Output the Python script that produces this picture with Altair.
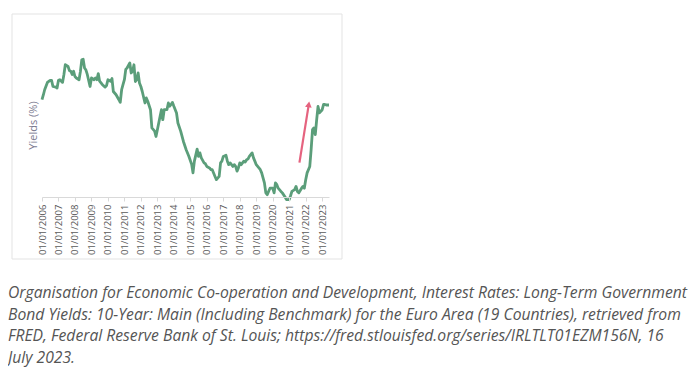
import altair as alt
import pandas as pd

# Euro area 10-year government bond yield (%)
dates = [
    "2006-01", "2006-02", "2006-03", "2006-05", "2006-07", "2006-08", "2006-09", "2006-11", "2006-12",
    "2007-01", "2007-02", "2007-04", "2007-05", "2007-06", "2007-08", "2007-09", "2007-10", "2007-11", "2007-12",
    "2008-01", "2008-02", "2008-04", "2008-05", "2008-06", "2008-07", "2008-08", "2008-09", "2008-10", "2008-12",
    "2009-01", "2009-03", "2009-04", "2009-05", "2009-06", "2009-07", "2009-09", "2009-11", "2009-12",
    "2010-01", "2010-03", "2010-04", "2010-05", "2010-07", "2010-09", "2010-10", "2010-11", "2010-12",
    "2011-01", "2011-02", "2011-03", "2011-05", "2011-06", "2011-07", "2011-08", "2011-09", "2011-10", "2011-11", "2011-12",
    "2012-01", "2012-02", "2012-04", "2012-05", "2012-06", "2012-08", "2012-09", "2012-11", "2012-12",
    "2013-01", "2013-03", "2013-04", "2013-05", "2013-06", "2013-08", "2013-09", "2013-10", "2013-11", "2013-12",
    "2014-01", "2014-03", "2014-04", "2014-06", "2014-08", "2014-10", "2014-12",
    "2015-02", "2015-03", "2015-04", "2015-06", "2015-07", "2015-08", "2015-09", "2015-11", "2015-12",
    "2016-01", "2016-03", "2016-04", "2016-05", "2016-07", "2016-08", "2016-10", "2016-11", "2016-12",
    "2017-01", "2017-03", "2017-04", "2017-05", "2017-06", "2017-08", "2017-09", "2017-10", "2017-11", "2017-12",
    "2018-01", "2018-02", "2018-04", "2018-05", "2018-06", "2018-07", "2018-08", "2018-10", "2018-11", "2018-12",
    "2019-01", "2019-03", "2019-04", "2019-05", "2019-07", "2019-08", "2019-09", "2019-10", "2019-11",
    "2020-01", "2020-02", "2020-03", "2020-04", "2020-05", "2020-07", "2020-08", "2020-10", "2020-11",
    "2021-01", "2021-02", "2021-03", "2021-05", "2021-06", "2021-07", "2021-08", "2021-10", "2021-11", "2021-12",
    "2022-01", "2022-02", "2022-04", "2022-05", "2022-06", "2022-07", "2022-08", "2022-09", "2022-10", "2022-11",
    "2023-01", "2023-02", "2023-03", "2023-04", "2023-05", "2023-06",
]
yields = [
    3.31, 3.48, 3.65, 3.90, 3.97, 3.97, 3.76, 3.74, 3.71,
    3.97, 3.99, 3.90, 4.16, 4.50, 4.44, 4.30, 4.28, 4.17, 4.28,
    4.10, 4.05, 3.99, 4.27, 4.67, 4.69, 4.39, 4.32, 4.17, 3.76,
    4.05, 3.99, 4.05, 3.99, 4.20, 3.94, 3.82, 3.74, 3.79,
    3.99, 3.94, 4.03, 3.59, 3.48, 3.31, 3.22, 3.65, 3.82,
    3.99, 4.35, 4.39, 4.56, 4.22, 4.28, 4.50, 3.93, 3.99, 4.22, 3.88,
    3.76, 3.59, 3.20, 3.37, 3.26, 2.97, 2.35, 2.24, 2.06,
    2.29, 2.74, 2.97, 2.63, 2.97, 2.97, 3.20, 3.09, 3.15, 3.22,
    3.09, 2.86, 2.52, 2.24, 1.89, 1.61, 1.38,
    1.10, 0.82, 1.22, 1.63, 1.38, 1.50, 1.33, 1.16, 1.13,
    1.04, 0.99, 0.93, 0.93, 0.70, 0.59, 0.70, 1.16, 1.22,
    1.38, 1.42, 1.22, 1.10, 1.16, 1.04, 1.10, 1.04, 0.88, 0.99,
    1.16, 1.10, 1.22, 1.19, 1.27, 1.29, 1.38, 1.50, 1.33, 1.22,
    1.10, 0.99, 0.93, 0.82, 0.48, 0.14, 0.08, 0.19, 0.30,
    0.30, 0.14, 0.48, 0.42, 0.30, 0.19, 0.14, 0.00, -0.09,
    -0.09, 0.05, 0.19, 0.25, 0.36, 0.19, 0.14, 0.30, 0.36, 0.30,
    0.59, 0.82, 1.04, 1.61, 2.29, 2.35, 2.12, 2.63, 3.08, 2.86,
    2.97, 3.15, 3.15, 3.13, 3.13, 3.13,
]

# annotation arrow (start -> head)
arrow_dates = ["2021-08-15", "2022-03-10"]
arrow_values = [1.17, 3.15]
arrow_angle = [9]

caption_lines = [
    "Organisation for Economic Co-operation and Development, Interest Rates: Long-Term Government",
    "Bond Yields: 10-Year: Main (Including Benchmark) for the Euro Area (19 Countries), retrieved from",
    "FRED, Federal Reserve Bank of St. Louis; https://fred.stlouisfed.org/series/IRLTLT01EZM156N, 16",
    "July 2023.",
]
year_ticks = [f"{y}-01-01" for y in range(2006, 2024)]

df = pd.DataFrame({"date": [d + "-01" for d in dates], "value": yields})
arrow_df = pd.DataFrame({
    "date": [arrow_dates[0]], "value": [arrow_values[0]],
    "date2": [arrow_dates[1]], "value2": [arrow_values[1]],
})
head_df = pd.DataFrame({"date": [arrow_dates[1]], "value": [arrow_values[1]], "angle": arrow_angle})

x_scale = alt.Scale(domain=["2006-01-01", "2023-06-01"], nice=False)
y_scale = alt.Scale(domain=[0, 4.9], nice=False, zero=False)

x_axis = alt.Axis(
    values=year_ticks, format="01/01/%Y", labelAngle=270, labelFontSize=9.5,
    labelFont="Open Sans", labelColor="#595959", labelPadding=3,
    domainColor="#d9d9d9", tickColor="#d9d9d9", tickSize=4, grid=False, title=None,
    labelOverlap=False, labelBound=False, labelFlush=False, zindex=1,
)
y_axis = alt.Axis(
    labels=False, ticks=False, domain=False, grid=False, title="Yields (%)",
    titleFont="Open Sans", titleFontSize=11, titleFontWeight="normal",
    titleColor="#7a7a90", titlePadding=4, zindex=1,
)

X = alt.X("date:T", scale=x_scale, axis=x_axis)
Y = alt.Y("value:Q", scale=y_scale, axis=y_axis)

border = alt.Chart(pd.DataFrame({"k": [0]})).mark_rect(
    fillOpacity=0, stroke="#e3e3e3", strokeWidth=1
).encode(x=alt.value(-30), x2=alt.value(300), y=alt.value(-39), y2=alt.value(206))

line = alt.Chart(df).mark_line(color="#5b9e7a", strokeWidth=2.8, strokeJoin="round").encode(x=X, y=Y)

arrow = alt.Chart(arrow_df).mark_rule(color="#e5637f", strokeWidth=2.2).encode(
    x=X, y=Y, x2="date2:T", y2="value2:Q"
)
head = alt.Chart(head_df).mark_point(
    shape="triangle-up", filled=True, color="#e5637f", size=45, opacity=1
).encode(x=X, y=Y, angle=alt.Angle("angle:Q", scale=None))

caption = alt.Chart(pd.DataFrame({"k": [0]})).mark_text(
    text=caption_lines, align="left", baseline="alphabetic", font="Open Sans",
    fontStyle="italic", fontSize=15.7, color="#555555", lineHeight=21.7,
).encode(x=alt.value(-34), y=alt.value(245))

chart = alt.layer(border, line, arrow, head, caption).properties(
    width=287, height=144,
    autosize=alt.AutoSizeParams(type="none"),
    padding={"left": 34, "top": 45, "right": 360, "bottom": 170},
    background="white",
).configure_view(stroke=None)

chart.save("out.html", embed_options={"renderer": "svg", "actions": False})
